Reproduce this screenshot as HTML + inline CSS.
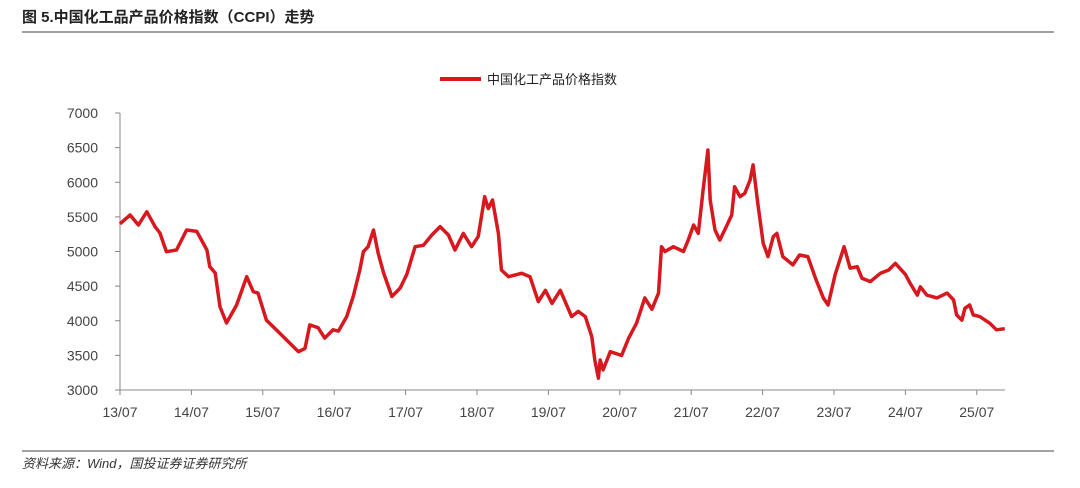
<!DOCTYPE html>
<html><head><meta charset="utf-8"><style>
body{margin:0;background:#fff;width:1080px;height:483px;overflow:hidden;font-family:"Liberation Sans","Noto Sans CJK SC",sans-serif}
</style></head><body>
<svg width="1080" height="483" xmlns="http://www.w3.org/2000/svg">
<text x="22" y="22" font-size="15" font-weight="bold" fill="#222" font-family="Liberation Sans,Noto Sans CJK SC,sans-serif">图 5.中国化工品产品价格指数（CCPI）走势</text>
<line x1="22" y1="32" x2="1054" y2="32" stroke="#444" stroke-width="1"/>
<g>
<line x1="440" y1="79" x2="481" y2="79" stroke="#d7191f" stroke-width="4"/>
<text x="487" y="84" font-size="13" fill="#222">中国化工产品价格指数</text>
</g>
<g id="axes"></g>
<path id="series" fill="none" stroke="#d7191f" stroke-width="3.5" stroke-linejoin="round"/>
<line x1="22" y1="451" x2="1054" y2="451" stroke="#444" stroke-width="1"/>
<text x="22" y="468" font-size="13" font-style="italic" fill="#333">资料来源：Wind，国投证券证券研究所</text>
</svg>
<script>
const months=[0,1.7,3.1,4.5,5.9,6.7,7.8,9.5,11.2,12.9,14.6,15.1,16,16.8,17.9,19.6,21.3,22.4,23.2,24.6,26.3,28,30,31.1,31.9,33.3,34.4,35.8,36.7,38.1,39.2,40.3,40.9,41.7,42.6,43.4,44.3,45.7,47.1,48.2,49.6,51,52.4,53.8,55.2,56.3,57.7,59.1,60.2,61.3,61.9,62.6,63.6,64.1,65.3,67.5,68.9,70.3,71.5,72.6,74,75.9,77,78.2,79.3,79.8,80.4,80.7,81.2,82.4,84.3,85.5,86.8,88.2,89.4,90.5,91,91.6,93,94.7,95.5,96.4,97.2,98,98.8,99.2,100,100.8,101.9,102.8,103.3,104.2,105,105.9,106.4,107.2,108.1,108.9,109.8,110.4,111.4,113.1,114.2,115.6,117,118.2,119,120.2,121.7,122.7,123.9,124.7,126.1,127.8,129.2,130.3,132,132.8,134,134.5,135.6,137.3,139,140.1,140.6,141.5,142,142.8,143.4,144.5,146.2,147.3,148.7];
const values=[5400,5527,5383,5575,5358,5267,4997,5022,5310,5290,5022,4780,4690,4200,3967,4227,4636,4420,4400,4010,3867,3722,3553,3600,3940,3900,3750,3870,3850,4060,4350,4733,4997,5070,5310,4974,4690,4350,4473,4670,5070,5090,5238,5360,5238,5022,5262,5070,5215,5792,5620,5743,5262,4733,4636,4685,4636,4276,4440,4250,4440,4060,4135,4060,3770,3433,3170,3433,3290,3553,3500,3750,3963,4330,4165,4400,5070,5000,5070,5000,5165,5383,5262,5888,6466,5743,5310,5165,5360,5527,5936,5792,5840,6032,6250,5695,5118,4926,5215,5262,4926,4806,4950,4926,4590,4330,4227,4670,5070,4760,4780,4613,4565,4685,4733,4830,4670,4540,4370,4490,4370,4330,4400,4300,4085,4010,4180,4227,4085,4060,3963,3870,3885];
const yTicks=[3000,3500,4000,4500,5000,5500,6000,6500,7000];
const xTickLabels=["13/07","14/07","15/07","16/07","17/07","18/07","19/07","20/07","21/07","22/07","23/07","24/07","25/07"];
const X0=120,XPM=71.4/12,Y0=390,YT=113;
function xs(m){return X0+m*XPM;}
function ys(v){return Y0-(v-3000)/4000*(Y0-YT);}
const NS="http://www.w3.org/2000/svg",ax=document.getElementById('axes');
function mk(t,a){const e=document.createElementNS(NS,t);for(const k in a)e.setAttribute(k,a[k]);ax.appendChild(e);return e;}
const ya=mk('line',{x1:X0,y1:YT,x2:X0,y2:Y0,stroke:'#888'});


const xa=mk('line',{x1:X0,y1:Y0,x2:1005,y2:Y0,stroke:'#888'});


yTicks.forEach(v=>{
 mk('line',{x1:X0-5,y1:ys(v),x2:X0,y2:ys(v),stroke:'#888'});
 const t=mk('text',{x:X0-22,y:ys(v)+5,'font-size':14,fill:'#444','text-anchor':'end'});
 t.textContent=v;
 
 
});
xTickLabels.forEach((l,i)=>{
 const x=xs(i*12);
 mk('line',{x1:x,y1:Y0,x2:x,y2:Y0+5,stroke:'#888'});
 const t=mk('text',{x:x,y:Y0+27,'font-size':14,fill:'#444','text-anchor':'middle'});
 t.textContent=l;
 
 
});
document.getElementById('series').setAttribute('d',months.map((m,i)=>(i?'L':'M')+xs(m).toFixed(1)+','+ys(values[i]).toFixed(1)).join(''));
</script>
</body></html>
